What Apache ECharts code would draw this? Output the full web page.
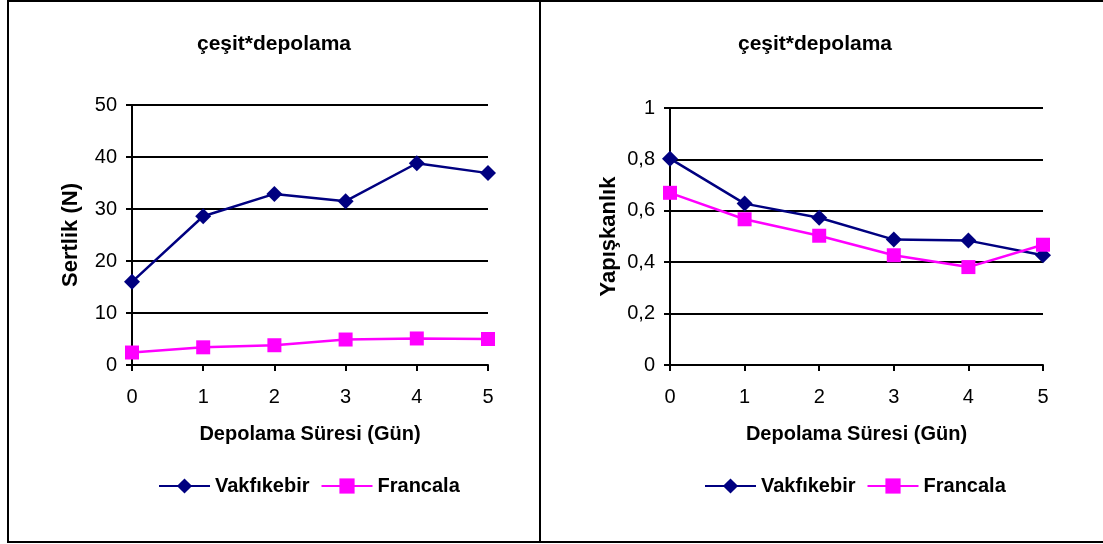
<!DOCTYPE html>
<html>
<head>
<meta charset="utf-8">
<script src="https://cdn.jsdelivr.net/npm/echarts@6/dist/echarts.min.js"></script>
<style>
html,body{margin:0;padding:0;background:#fff;}
#c{width:1103px;height:544px;}
</style>
</head>
<body>
<div id="c"></div>
<script>
// ---- data ----
const days = ['0', '1', '2', '3', '4', '5'];
const seriesNames = ['Vakfıkebir', 'Francala'];
const sertlikVakfikebir = [16.0, 28.6, 32.9, 31.5, 38.8, 36.9];
const sertlikFrancala = [2.4, 3.4, 3.8, 4.9, 5.1, 5.0];
const yapiskanlikVakfikebir = [0.803, 0.628, 0.573, 0.488, 0.484, 0.427];
const yapiskanlikFrancala = [0.670, 0.567, 0.503, 0.427, 0.381, 0.468];
const chartTitle = 'çeşit*depolama';
const xName = 'Depolama Süresi (Gün)';
const yNameLeft = 'Sertlik (N)';
const yNameRight = 'Yapışkanlık';

const FONT = "'Liberation Sans', Arial, sans-serif";
const NAVY = '#000080';
const MAGENTA = '#FF00FF';

function xAxisCfg(gridIndex) {
  return {
    gridIndex: gridIndex,
    type: 'category',
    data: days,
    boundaryGap: false,
    name: xName,
    nameLocation: 'middle',
    nameGap: 59,
    nameTextStyle: {fontFamily: FONT, fontSize: 20, fontWeight: 'bold', color: '#000'},
    axisLine: {show: true, lineStyle: {color: '#000', width: 2}},
    axisTick: {show: true, inside: false, length: 6, lineStyle: {color: '#000', width: 2}},
    axisLabel: {fontFamily: FONT, fontSize: 20, color: '#000', margin: 22},
    splitLine: {show: false}
  };
}
function yAxisCfg(gridIndex, name, max, interval, fmt) {
  return {
    gridIndex: gridIndex,
    type: 'value',
    min: 0, max: max, interval: interval,
    name: name,
    nameLocation: 'middle',
    nameGap: 50,
    nameTextStyle: {fontFamily: FONT, fontSize: 22, fontWeight: 'bold', color: '#000'},
    axisLine: {show: true, lineStyle: {color: '#000', width: 2}},
    axisTick: {show: true, inside: false, length: 6, lineStyle: {color: '#000', width: 2}},
    axisLabel: {fontFamily: FONT, fontSize: 20, color: '#000', margin: 15, formatter: fmt},
    splitLine: {show: true, lineStyle: {color: '#000', width: 2}}
  };
}
function lineSeries(name, data, idx, color, symbol, size) {
  return {
    name: name, type: 'line', data: data,
    xAxisIndex: idx, yAxisIndex: idx,
    symbol: symbol, symbolSize: size,
    color: color,
    lineStyle: {color: color, width: 2.5},
    itemStyle: {color: color},
    animation: false
  };
}
function legendCfg(left) {
  return {
    left: left, top: 476, padding: 0,
    orient: 'horizontal',
    itemWidth: 51, itemHeight: 19, itemGap: 11,
    data: seriesNames,
    textStyle: {fontFamily: FONT, fontSize: 20, fontWeight: 'bold', color: '#000'}
  };
}

const chart = echarts.init(document.getElementById('c'));
chart.setOption({
  backgroundColor: '#fff',
  animation: false,
  title: [
    {text: chartTitle, left: 274, top: 34, textAlign: 'center', padding: 0,
     textStyle: {fontFamily: FONT, fontSize: 21, fontWeight: 'bold', color: '#000'}},
    {text: chartTitle, left: 815, top: 34, textAlign: 'center', padding: 0,
     textStyle: {fontFamily: FONT, fontSize: 21, fontWeight: 'bold', color: '#000'}}
  ],
  legend: [legendCfg(158), legendCfg(704)],
  grid: [
    {left: 132, top: 105, width: 356, height: 260, containLabel: false},
    {left: 670, top: 108, width: 373, height: 257, containLabel: false}
  ],
  xAxis: [xAxisCfg(0), xAxisCfg(1)],
  yAxis: [
    yAxisCfg(0, yNameLeft, 50, 10, v => String(v)),
    yAxisCfg(1, yNameRight, 1, 0.2, v => String(Math.round(v * 10) / 10).replace('.', ','))
  ],
  series: [
    lineSeries(seriesNames[0], sertlikVakfikebir, 0, NAVY, 'diamond', 16),
    lineSeries(seriesNames[1], sertlikFrancala, 0, MAGENTA, 'rect', 14),
    lineSeries(seriesNames[0], yapiskanlikVakfikebir, 1, NAVY, 'diamond', 16),
    lineSeries(seriesNames[1], yapiskanlikFrancala, 1, MAGENTA, 'rect', 14)
  ],
  graphic: [
    {type: 'rect', shape: {x: 7, y: 0, width: 1096, height: 2}, style: {fill: '#000'}, silent: true},
    {type: 'rect', shape: {x: 7, y: 0, width: 2, height: 543}, style: {fill: '#000'}, silent: true},
    {type: 'rect', shape: {x: 539, y: 0, width: 2, height: 543}, style: {fill: '#000'}, silent: true},
    {type: 'rect', shape: {x: 7, y: 541, width: 1096, height: 2}, style: {fill: '#000'}, silent: true}
  ]
});
</script>
</body>
</html>
